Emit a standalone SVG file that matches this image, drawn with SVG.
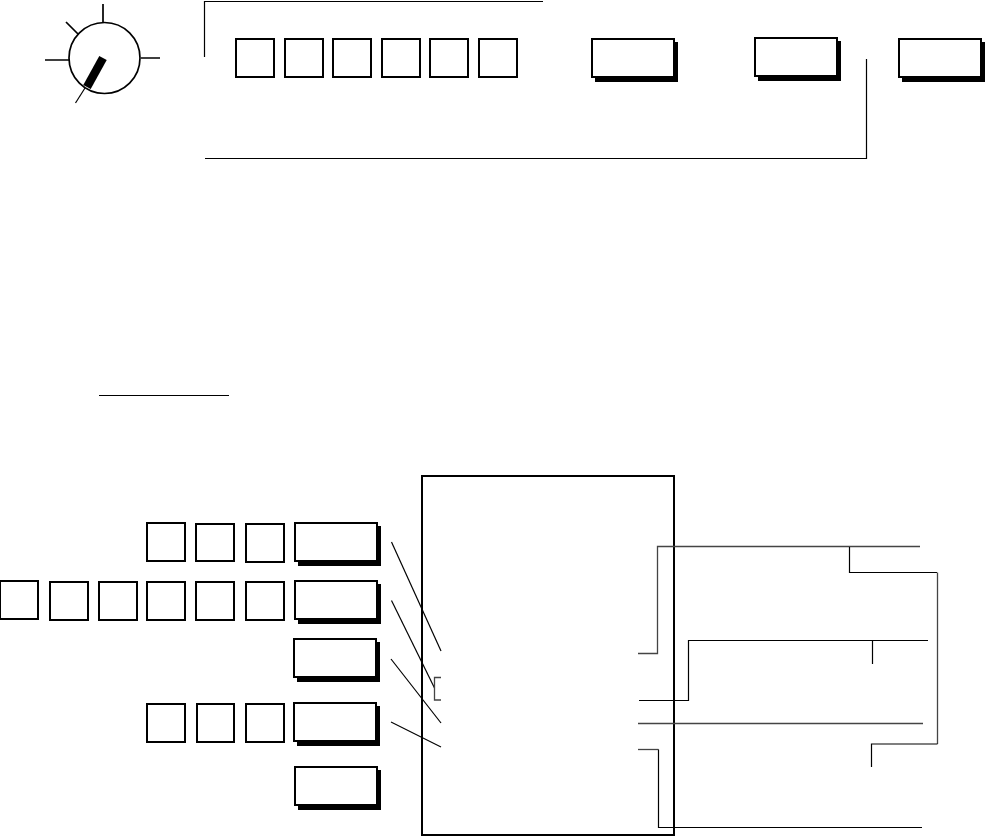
<svg xmlns="http://www.w3.org/2000/svg" width="985" height="837" viewBox="0 0 985 837">
<style>
.sq{fill:#fff;stroke:#000;stroke-width:2}
.bx{fill:#fff;stroke:#000;stroke-width:2}
.sh{fill:#000}
.c{fill:none;stroke:#000;stroke-width:1.2}
.g{fill:none;stroke:#444;stroke-width:1.3}
.t{fill:none;stroke:#000;stroke-width:1.7}
</style>
<defs>
<g id="shadowbox"><rect class="sh" x="3" y="3" width="83" height="40"/><rect class="bx" x="0" y="0" width="82" height="38"/></g>
</defs>
<rect width="985" height="837" fill="#fff"/>
<g id="dial">
<circle cx="104.500" cy="58" r="35.500" fill="none" stroke="#000" stroke-width="1.700"/>
<path class="t" d="M103 4V22M45 60H69M141 58H160M66 22L78 34"/>
<path d="M103 58L87 87" stroke="#000" stroke-width="8.500" fill="none"/>
<path class="c" d="M85 88L75.500 103"/>
</g>
<g id="top-squares">
<rect class="sq" x="236" y="39" width="38" height="38"/>
<rect class="sq" x="285" y="39" width="38" height="38"/>
<rect class="sq" x="333" y="39" width="38" height="38"/>
<rect class="sq" x="382" y="39" width="38" height="38"/>
<rect class="sq" x="430" y="39" width="38" height="38"/>
<rect class="sq" x="479" y="39" width="38" height="38"/>
</g>
<use id="top-box-1" href="#shadowbox" x="592" y="39"/>
<use id="top-box-2" href="#shadowbox" x="755" y="38"/>
<use id="top-box-3" href="#shadowbox" x="899" y="39"/>
<g id="row-1">
<rect class="sq" x="147" y="523" width="38" height="38"/>
<rect class="sq" x="196" y="524" width="38" height="37"/>
<rect class="sq" x="246" y="524" width="38" height="38"/>
<use href="#shadowbox" x="295" y="523"/>
</g>
<g id="row-2">
<rect class="sq" x="0" y="581" width="38" height="38"/>
<rect class="sq" x="50" y="582" width="38" height="38"/>
<rect class="sq" x="99" y="582" width="38" height="38"/>
<rect class="sq" x="147" y="582" width="38" height="38"/>
<rect class="sq" x="196" y="582" width="38" height="38"/>
<rect class="sq" x="246" y="582" width="38" height="38"/>
<use href="#shadowbox" x="295" y="581"/>
</g>
<use id="row-3" href="#shadowbox" x="294" y="639"/>
<g id="row-4">
<rect class="sq" x="147" y="704" width="38" height="38"/>
<rect class="sq" x="197" y="704" width="37" height="38"/>
<rect class="sq" x="246" y="704" width="38" height="38"/>
<use href="#shadowbox" x="294" y="703"/>
</g>
<use id="row-5" href="#shadowbox" x="295" y="767"/>
<rect id="frame" x="422" y="476" width="252" height="359" fill="none" stroke="#000" stroke-width="2"/>
<g id="connectors">
<path class="c" d="M204.500 57V1.500H543"/>
<path class="c" d="M205 158.500H866.500V59"/>
<path class="c" d="M99 395.500H229"/>
<path class="c" d="M391.500 542L441 651"/>
<path class="c" d="M391.500 600.500L434.500 688"/>
<path class="g" d="M441 677.500H434.500V700H441"/>
<path class="c" d="M391 659L441 723"/>
<path class="c" d="M391 722L441 747"/>
<path class="g" d="M638 653.500H657.500V546.500H920"/>
<path class="c" d="M849.500 547V573"/>
<path class="c" d="M849 572.500H937"/>
<path class="g" d="M937.500 572.500V744"/>
<path class="c" d="M937.500 744H871.500V767"/>
<path class="c" d="M639 700.500H688.500V640.500H928"/>
<path class="c" d="M872.500 640V664"/>
<path class="g" d="M638 723.500H923"/>
<path class="g" d="M638 749.500H658.500"/>
<path class="c" d="M658.500 749.500V827.500H922"/>
</g>
</svg>
